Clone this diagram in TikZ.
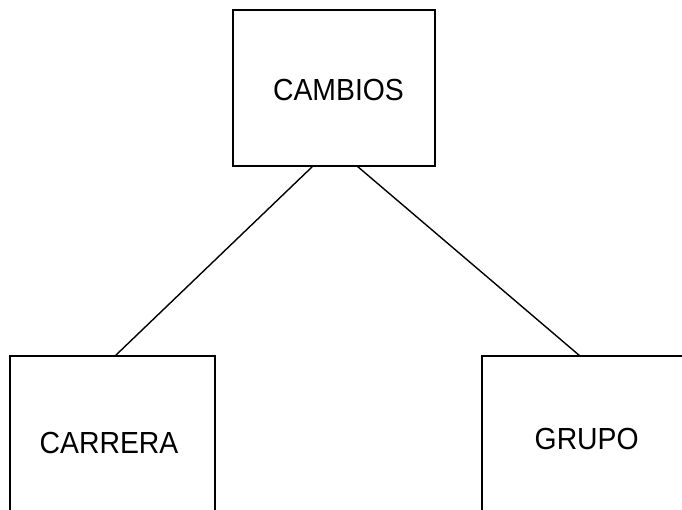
\documentclass[tikz,border=0pt]{standalone}
\usepackage{fontspec}
\setmainfont[FakeStretch=0.93]{Liberation Sans}
\begin{document}
\begin{tikzpicture}[x=1pt,y=-1pt,
  entity/.style={draw=black, line width=1.6pt, rectangle, inner sep=0pt, outer sep=0pt},
  caption/.style={inner sep=0pt, font=\fontsize{30.5}{34}\selectfont},
  link/.style={draw=black, line width=1.4pt}]
\useasboundingbox (0,0) rectangle (682,510);
\clip (0,0) rectangle (682,510);
\fill[white] (0,0) rectangle (682,510);
\node[entity, minimum width=202pt, minimum height=156pt] (cambios) at (334,88) {};
\node[entity, minimum width=205pt, minimum height=180pt] (carrera) at (112.5,446) {};
\node[entity, minimum width=206pt, minimum height=180pt] (grupo) at (585,446) {};
\node[caption] (tcambios) at (338.5,90.5) {CAMBIOS};
\node[caption] (tcarrera) at (109,442.5) {CARRERA};
\node[caption] (tgrupo) at (586.7,439) {GRUPO};
\draw[link] ([xshift=-21pt]cambios.south) -- ([xshift=2.5pt]carrera.north);
\draw[link] ([xshift=23pt]cambios.south) -- ([xshift=-5pt]grupo.north);
\end{tikzpicture}
\end{document}
